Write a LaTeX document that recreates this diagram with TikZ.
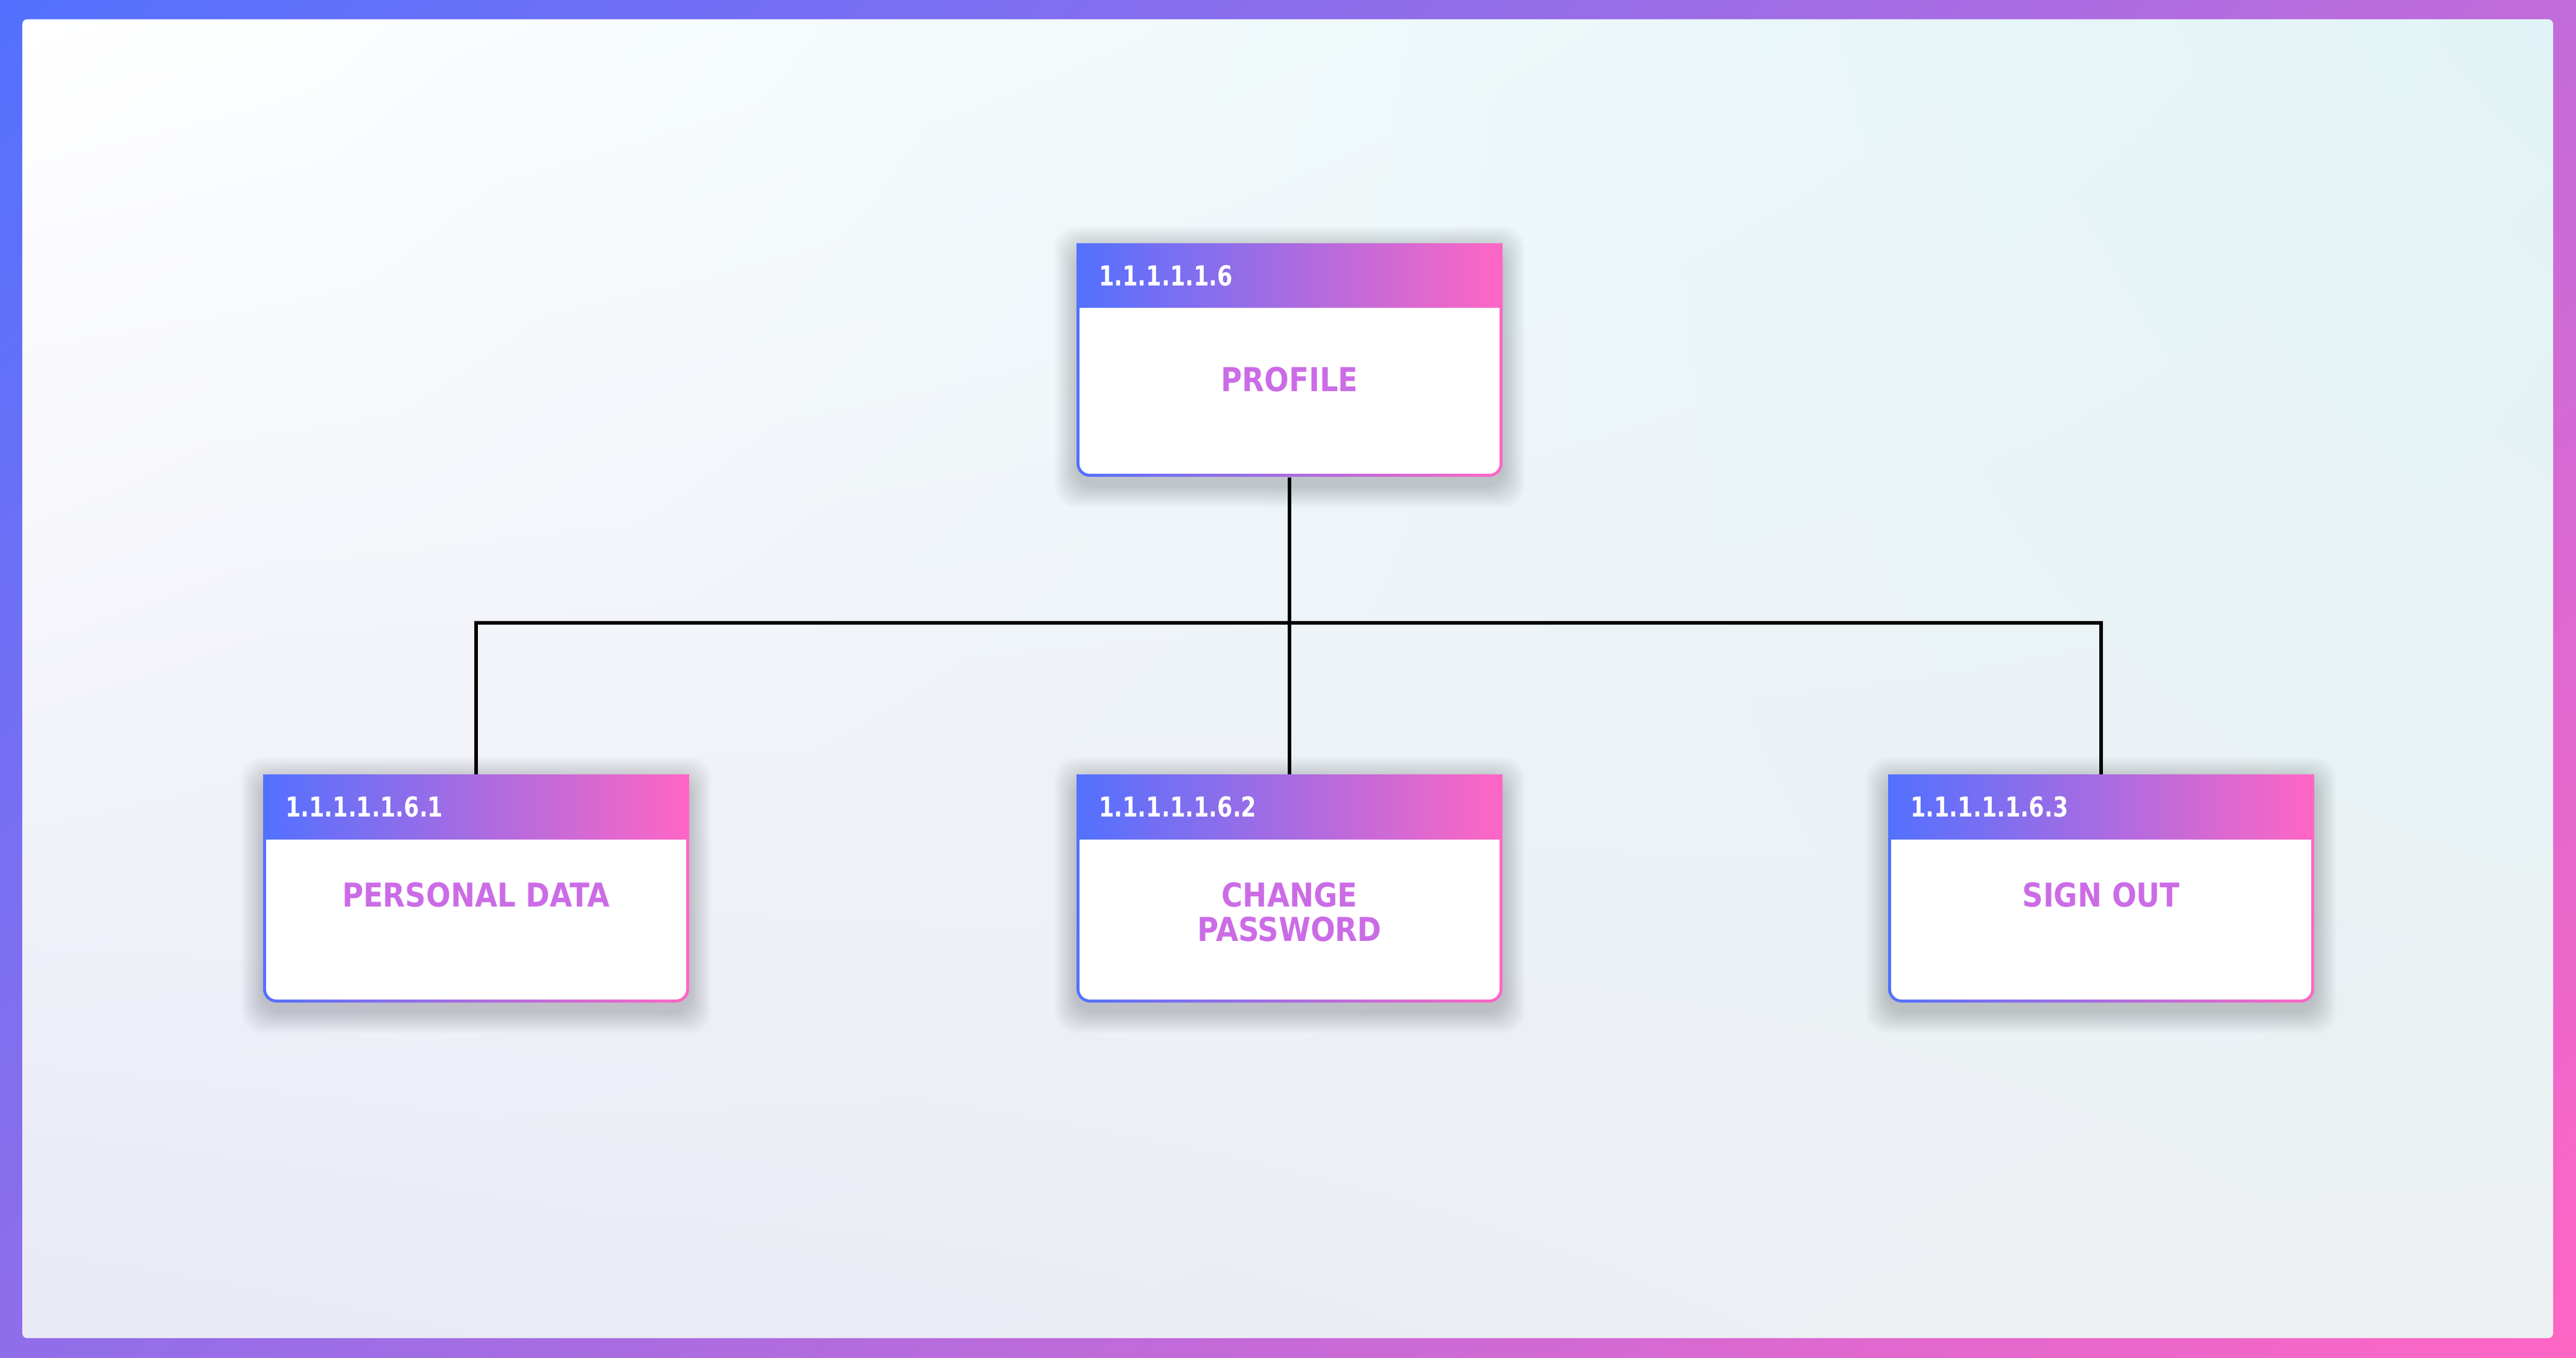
\documentclass[tikz,border=0pt]{standalone}
\usepackage{fontspec}
\newfontfamily\boxfont{DejaVu Sans}[FakeStretch=0.88]
\newfontfamily\numfont{DejaVu Sans}[FakeStretch=0.8]
\usepackage{xcolor}
\usepackage{tikz}
\usetikzlibrary{positioning, backgrounds, shadings}

\definecolor{blueL}{HTML}{5271FF}
\definecolor{pinkR}{HTML}{FF66C4}
\definecolor{labelpurple}{HTML}{CB6CE6}
\definecolor{frameTR}{HTML}{C26BDA}
\definecolor{frameBL}{HTML}{8F6EEA}
\definecolor{panelTR}{HTML}{E1F3F6}
\definecolor{panelBL}{HTML}{E9E9F6}
\definecolor{panelBR}{HTML}{EEF1F2}

\begin{document}
\begin{tikzpicture}
  [
    Box/.style={shade, left color=blueL, right color=pinkR, rounded corners=0.22cm, minimum width=7.06cm, inner sep=0pt,
      path picture={\fill[white, rounded corners=0.17cm] ([shift={(0.05cm,0.05cm)}]path picture bounding box.south west) rectangle ([shift={(-0.05cm,-0.05cm)}]path picture bounding box.north east);}},
    Head/.style={shade, left color=blueL, right color=pinkR, minimum height=1.06cm, text width=6.32cm, inner xsep=0.37cm, inner ysep=0pt, align=left, text=white, font=\numfont\bfseries\fontsize{13}{15}\selectfont},
    Title/.style={anchor=north, inner sep=0pt, align=center, text=labelpurple, font=\boxfont\bfseries\fontsize{15.5}{16.2}\selectfont},
    Link/.style={draw=black, line width=1.5pt}
  ]
  \useasboundingbox (0,0) rectangle (42.69,-22.50);

  % Frame
  \begin{scope}[on background layer]
    \shade[upper left=blueL, upper right=frameTR, lower left=frameBL, lower right=pinkR] (0,0) rectangle (42.69,-22.50);
    \shade[rounded corners=0.08cm, upper left=white, upper right=panelTR, lower left=panelBL, lower right=panelBR] (0.37,-0.32) rectangle (42.31,-22.17);
  \end{scope}

  % Nodes
  \node[Box, minimum height=3.86cm] (prof) at (21.37,-5.97) {};
  \node[Head, below=0pt of prof.north] (profh) {1.1.1.1.1.6};
  \node[Title] (proft) at ([yshift=-2.04cm]prof.north) {PROFILE};

  \node[Box, minimum height=3.77cm] (pd) at (7.89,-14.725) {};
  \node[Head, below=0pt of pd.north] (pdh) {1.1.1.1.1.6.1};
  \node[Title] (pdt) at ([yshift=-1.78cm]pd.north) {PERSONAL DATA};

  \node[Box, minimum height=3.77cm] (cp) at (21.37,-14.725) {};
  \node[Head, below=0pt of cp.north] (cph) {1.1.1.1.1.6.2};
  \node[Title] (cpt) at ([yshift=-1.78cm]cp.north) {CHANGE\\PASSWORD};

  \node[Box, minimum height=3.77cm] (so) at (34.82,-14.725) {};
  \node[Head, below=0pt of so.north] (soh) {1.1.1.1.1.6.3};
  \node[Title] (sot) at ([yshift=-1.78cm]so.north) {SIGN OUT};

  % Shadows
  \begin{scope}[on background layer]
    \foreach \n in {prof,pd,cp,so}
      \foreach \s in {0.03,0.06,...,0.36}
        \fill[black, opacity=0.014, rounded corners=0.35cm] ([shift={(-\s,\s-0.08)}]\n.north west) rectangle ([shift={(\s,-\s-0.14)}]\n.south east);
  \end{scope}

  % Lines
  \coordinate (bus) at (21.37,-10.32);
  \draw[Link] (prof.south) -- (cp.north);
  \draw[Link] (pd.north) |- (bus) -| (so.north);

\end{tikzpicture}
\end{document}
